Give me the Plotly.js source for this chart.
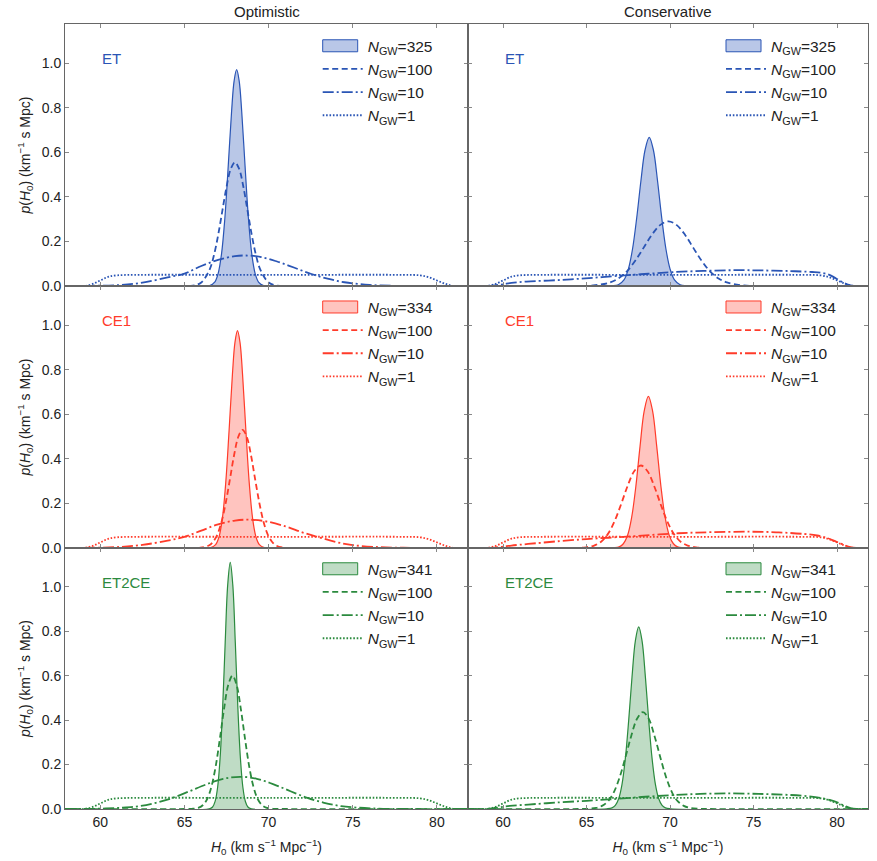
<!DOCTYPE html>
<html><head><meta charset="utf-8">
<script src="https://cdn.plot.ly/plotly-3.0.1.min.js"></script>
<style>html,body{margin:0;padding:0;background:#fff}</style>
</head><body><div id="chart" style="width:877px;height:861px"></div>
<script>
// ---------- data (H0 in km/s/Mpc, p(H0)) ----------
const columns = ['Optimistic', 'Conservative'];
const detectors = ['ET', 'CE1', 'ET2CE'];
const et_n = [325, 100, 10, 1];
const ce1_n = [334, 100, 10, 1];
const et2ce_n = [341, 100, 10, 1];

// prior (N_GW = 1), same in all panels
const prior_x = [57.9, 59.0, 59.5, 60.0, 60.5, 61.0, 62.0, 70.0, 78.0, 79.0, 79.5, 80.0, 80.5, 81.0, 81.85];
const prior_y = [0, 0, 0.008, 0.025, 0.042, 0.048, 0.05, 0.05, 0.05, 0.048, 0.04, 0.025, 0.01, 0, 0];

// ET optimistic
const et_opt_325_x = [57.9, 66.5, 66.8, 67.0, 67.2, 67.4, 67.6, 67.8, 67.95, 68.1, 68.25, 68.4, 68.6, 68.8, 69.0, 69.2, 69.4, 69.7, 81.85];
const et_opt_325_y = [0, 0.002, 0.018, 0.056, 0.143, 0.304, 0.538, 0.784, 0.92, 0.97, 0.92, 0.784, 0.538, 0.304, 0.143, 0.056, 0.018, 0.002, 0];
const et_opt_100_x = [57.9, 64.5, 65.5, 66.0, 66.5, 66.75, 67.0, 67.25, 67.5, 67.75, 68.0, 68.25, 68.5, 68.75, 69.0, 69.25, 69.5, 70.0, 70.5, 71.5, 81.85];
const et_opt_100_y = [0, 0, 0.002, 0.016, 0.075, 0.138, 0.228, 0.337, 0.445, 0.525, 0.555, 0.525, 0.445, 0.337, 0.228, 0.138, 0.075, 0.016, 0.002, 0, 0];
const et_opt_10_x = [57.9, 59.5, 61, 62.5, 64, 65, 66, 67, 68, 68.6, 69.5, 70.5, 71.5, 72.5, 73.5, 74.5, 76, 77.5, 79, 81.85];
const et_opt_10_y = [0, 0.001, 0.004, 0.015, 0.039, 0.056, 0.09, 0.117, 0.134, 0.137, 0.131, 0.11, 0.083, 0.055, 0.033, 0.017, 0.005, 0.001, 0, 0];

// ET conservative
const et_con_325_x = [57.9, 66.5, 66.9, 67.25, 67.5, 67.75, 68.0, 68.25, 68.5, 68.75, 69.0, 69.25, 69.5, 69.75, 70.0, 70.25, 70.6, 71.0, 81.85];
const et_con_325_y = [0, 0.001, 0.006, 0.029, 0.076, 0.166, 0.305, 0.47, 0.61, 0.667, 0.61, 0.47, 0.305, 0.166, 0.076, 0.029, 0.006, 0.001, 0];
const et_con_100_x = [57.9, 64.5, 65.4, 66.4, 66.9, 67.4, 67.9, 68.4, 68.9, 69.4, 69.9, 70.4, 70.9, 71.4, 71.9, 72.4, 72.9, 73.4, 74.4, 75.5, 81.85];
const et_con_100_y = [0, 0, 0.0025, 0.016, 0.034, 0.065, 0.112, 0.17, 0.229, 0.273, 0.29, 0.273, 0.229, 0.17, 0.112, 0.065, 0.034, 0.016, 0.0025, 0, 0];
const et_con_10_x = [57.9, 59.0, 59.5, 60.0, 60.5, 61.4, 63.4, 65.4, 67.3, 68.7, 70.1, 72.0, 73.9, 75.5, 77.2, 78.5, 79.0, 79.5, 79.8, 80.2, 80.6, 81.0, 81.85];
const et_con_10_y = [0, 0, 0.003, 0.008, 0.014, 0.02, 0.027, 0.037, 0.048, 0.055, 0.062, 0.068, 0.071, 0.07, 0.067, 0.063, 0.06, 0.051, 0.04, 0.022, 0.008, 0.001, 0];

// CE1 optimistic
const ce1_opt_334_x = [57.9, 66.55, 66.85, 67.05, 67.25, 67.45, 67.65, 67.85, 68.0, 68.15, 68.3, 68.45, 68.65, 68.85, 69.05, 69.25, 69.45, 69.75, 81.85];
const ce1_opt_334_y = [0, 0.002, 0.015, 0.049, 0.132, 0.291, 0.526, 0.78, 0.922, 0.975, 0.922, 0.78, 0.526, 0.291, 0.132, 0.049, 0.015, 0.002, 0];
const ce1_opt_100_x = [57.9, 65.5, 65.95, 66.45, 66.7, 66.95, 67.2, 67.45, 67.7, 67.95, 68.2, 68.45, 68.7, 68.95, 69.2, 69.45, 69.7, 69.95, 70.2, 70.45, 70.95, 71.5, 81.85];
const ce1_opt_100_y = [0, 0, 0.001, 0.011, 0.028, 0.06, 0.117, 0.202, 0.308, 0.417, 0.499, 0.53, 0.499, 0.417, 0.308, 0.202, 0.117, 0.06, 0.028, 0.011, 0.001, 0, 0];
const ce1_opt_10_x = [57.9, 59.5, 61, 62.5, 64, 65, 66, 67, 68, 68.8, 69.8, 71, 72, 73, 74, 75, 76.5, 78, 79.5, 81.85];
const ce1_opt_10_y = [0, 0.001, 0.004, 0.014, 0.033, 0.05, 0.078, 0.106, 0.123, 0.127, 0.12, 0.097, 0.07, 0.048, 0.027, 0.013, 0.004, 0.001, 0, 0];

// CE1 conservative
const ce1_con_334_x = [57.9, 66.6, 66.95, 67.2, 67.45, 67.7, 67.95, 68.2, 68.45, 68.7, 68.95, 69.2, 69.45, 69.7, 69.95, 70.2, 70.45, 70.8, 81.85];
const ce1_con_334_y = [0, 0.001, 0.005, 0.019, 0.056, 0.138, 0.277, 0.456, 0.615, 0.68, 0.615, 0.456, 0.277, 0.138, 0.056, 0.019, 0.005, 0.001, 0];
const ce1_con_100_x = [57.9, 64.25, 64.95, 65.45, 65.85, 66.25, 66.65, 67.05, 67.45, 67.85, 68.25, 68.65, 69.05, 69.45, 69.85, 70.25, 70.65, 71.05, 71.55, 72.25, 81.85];
const ce1_con_100_y = [0, 0, 0.003, 0.011, 0.027, 0.06, 0.116, 0.193, 0.277, 0.344, 0.37, 0.344, 0.277, 0.193, 0.116, 0.06, 0.027, 0.011, 0.003, 0, 0];
const ce1_con_10_x = [57.9, 59.0, 59.5, 60.0, 60.5, 61.5, 63.4, 65.0, 66.3, 68.0, 70.5, 72.5, 74.8, 76.5, 78.0, 78.8, 79.4, 79.8, 80.3, 80.8, 81.2, 81.85];
const ce1_con_10_y = [0, 0, 0.002, 0.006, 0.011, 0.018, 0.031, 0.04, 0.046, 0.054, 0.066, 0.071, 0.073, 0.07, 0.063, 0.056, 0.045, 0.033, 0.017, 0.004, 0, 0];

// ET2CE optimistic
const et2ce_opt_341_x = [57.9, 66.47, 66.67, 66.82, 66.97, 67.12, 67.27, 67.42, 67.57, 67.72, 67.87, 68.02, 68.17, 68.32, 68.47, 68.62, 68.77, 68.97, 81.85];
const et2ce_opt_341_y = [0, 0.001, 0.009, 0.034, 0.098, 0.233, 0.46, 0.75, 1.01, 1.11, 1.01, 0.75, 0.46, 0.233, 0.098, 0.034, 0.009, 0.001, 0];
const et2ce_opt_100_x = [57.9, 65.0, 65.45, 65.85, 66.1, 66.35, 66.6, 66.85, 67.1, 67.35, 67.6, 67.85, 68.1, 68.35, 68.6, 68.85, 69.1, 69.35, 69.6, 69.85, 70.25, 71.0, 81.85];
const et2ce_opt_100_y = [0, 0, 0.001, 0.006, 0.018, 0.045, 0.1, 0.19, 0.315, 0.45, 0.558, 0.6, 0.558, 0.45, 0.315, 0.19, 0.1, 0.045, 0.018, 0.006, 0.001, 0, 0];
const et2ce_opt_10_x = [57.9, 58.3, 59.8, 61.3, 62.3, 63.3, 64.3, 65.3, 66.3, 67.3, 68.3, 69.3, 70.3, 71.3, 72.3, 73.3, 74.3, 75.3, 76.8, 78.3, 81.85];
const et2ce_opt_10_y = [0, 0, 0.001, 0.006, 0.013, 0.028, 0.05, 0.08, 0.111, 0.136, 0.145, 0.136, 0.111, 0.08, 0.05, 0.028, 0.013, 0.006, 0.001, 0, 0];

// ET2CE conservative
const et2ce_con_341_x = [57.9, 66.22, 66.52, 66.72, 66.92, 67.12, 67.32, 67.52, 67.72, 67.92, 68.12, 68.32, 68.52, 68.72, 68.92, 69.12, 69.32, 69.52, 69.72, 70.02, 81.85];
const et2ce_con_341_y = [0, 0.001, 0.005, 0.016, 0.046, 0.111, 0.228, 0.399, 0.595, 0.757, 0.82, 0.757, 0.595, 0.399, 0.228, 0.111, 0.046, 0.016, 0.005, 0.001, 0];
const et2ce_con_100_x = [57.9, 64.5, 65.07, 65.57, 65.92, 66.27, 66.62, 66.97, 67.32, 67.67, 68.02, 68.37, 68.72, 69.07, 69.42, 69.77, 70.12, 70.47, 70.82, 71.17, 71.67, 72.3, 81.85];
const et2ce_con_100_y = [0, 0, 0.001, 0.005, 0.014, 0.034, 0.074, 0.141, 0.231, 0.328, 0.406, 0.436, 0.406, 0.328, 0.231, 0.141, 0.074, 0.034, 0.014, 0.005, 0.001, 0, 0];
const et2ce_con_10_x = [57.9, 59.0, 59.4, 59.8, 60.4, 61.5, 63.4, 65.0, 66.3, 68.3, 70.3, 71.8, 73.3, 75.3, 77.2, 78.3, 79.0, 79.6, 80.0, 80.4, 80.8, 81.2, 81.85];
const et2ce_con_10_y = [0, 0, 0.003, 0.008, 0.014, 0.02, 0.03, 0.037, 0.043, 0.054, 0.063, 0.068, 0.07, 0.068, 0.063, 0.057, 0.05, 0.04, 0.03, 0.016, 0.004, 0, 0];

const xTicks = [60, 65, 70, 75, 80];
const yTicks = [0, 0.2, 0.4, 0.6, 0.8, 1.0];

// ---------- styling ----------
const FONT = 'Liberation Sans, Arial, sans-serif';
const TXT = '#222';
const H_RANGE = [57.9, 81.85];
const P_RANGE = [0, 1.175];
const palette = {
  ET:    {line: '#2a55b5', fill: 'rgba(42,85,181,0.33)'},
  CE1:   {line: '#ff3b2a', fill: 'rgba(255,59,42,0.3)'},
  ET2CE: {line: '#2b8a3e', fill: 'rgba(43,138,62,0.3)'}
};
const dashes = ['solid', '6px,3.5px', '11px,3px,2px,3px', '1.6px,1.8px'];

const panels = [
  {det: 'ET', ns: et_n, curves: [[et_opt_325_x, et_opt_325_y], [et_opt_100_x, et_opt_100_y], [et_opt_10_x, et_opt_10_y], [prior_x, prior_y]]},
  {det: 'ET', ns: et_n, curves: [[et_con_325_x, et_con_325_y], [et_con_100_x, et_con_100_y], [et_con_10_x, et_con_10_y], [prior_x, prior_y]]},
  {det: 'CE1', ns: ce1_n, curves: [[ce1_opt_334_x, ce1_opt_334_y], [ce1_opt_100_x, ce1_opt_100_y], [ce1_opt_10_x, ce1_opt_10_y], [prior_x, prior_y]]},
  {det: 'CE1', ns: ce1_n, curves: [[ce1_con_334_x, ce1_con_334_y], [ce1_con_100_x, ce1_con_100_y], [ce1_con_10_x, ce1_con_10_y], [prior_x, prior_y]]},
  {det: 'ET2CE', ns: et2ce_n, curves: [[et2ce_opt_341_x, et2ce_opt_341_y], [et2ce_opt_100_x, et2ce_opt_100_y], [et2ce_opt_10_x, et2ce_opt_10_y], [prior_x, prior_y]]},
  {det: 'ET2CE', ns: et2ce_n, curves: [[et2ce_con_341_x, et2ce_con_341_y], [et2ce_con_100_x, et2ce_con_100_y], [et2ce_con_10_x, et2ce_con_10_y], [prior_x, prior_y]]}
];

// page geometry (px) -> paper
const M = {l: 65, r: 9, t: 24, b: 52};
const PW = 877 - M.l - M.r, PH = 861 - M.t - M.b;
const px2x = px => (px - M.l) / PW;
const px2y = py => (861 - M.b - py) / PH;

const xDom = [[0, 0.5019], [0.5019, 1]];
const yDom = [[0.6662, 1], [0.3325, 0.6662], [0, 0.3325]];

const LEG_FONT = 15.5;
const LEG_ITEM_H = LEG_FONT * 1.3 + 3;
const LEG_ITEM_W = 40;
const legLeftPx = [317.7, 721];
const legTopPx = [29.2, 290.4, 552.2];

const traces = [];
const layout = {
  width: 877, height: 861,
  margin: M,
  paper_bgcolor: '#fff', plot_bgcolor: '#fff',
  font: {family: FONT, color: TXT, size: 14},
  showlegend: true,
  annotations: [],
  shapes: []
};

panels.forEach((p, i) => {
  const k = i + 1;
  const sfx = k === 1 ? '' : String(k);
  const col = i % 2, row = Math.floor(i / 2);
  const c = palette[p.det];
  const legName = 'legend' + sfx;
  // legend entry for the filled posterior (symbol drawn as a box shape below)
  traces.push({
    type: 'scatter', mode: 'lines', x: [null], y: [null],
    xaxis: 'x' + sfx, yaxis: 'y' + sfx, legend: legName,
    name: '<i>N</i><sub>GW</sub>=' + p.ns[0],
    line: {color: 'rgba(0,0,0,0)', width: 0}, hoverinfo: 'skip'
  });
  p.curves.forEach((cv, j) => {
    const tr = {
      type: 'scatter', mode: 'lines',
      x: cv[0], y: cv[1],
      xaxis: 'x' + sfx, yaxis: 'y' + sfx, legend: legName,
      name: '<i>N</i><sub>GW</sub>=' + p.ns[j],
      line: {color: c.line, width: j === 0 ? 1.2 : 1.8, dash: dashes[j], shape: 'spline'},
      hoverinfo: 'skip'
    };
    if (j === 0) { tr.fill = 'toself'; tr.fillcolor = c.fill; tr.showlegend = false; }
    traces.push(tr);
  });
  layout['xaxis' + sfx] = {
    domain: xDom[col], anchor: 'y' + sfx, range: H_RANGE,
    showline: true, mirror: 'ticks', linecolor: '#666', linewidth: 1,
    ticks: 'inside', ticklen: 4, tickcolor: '#888', tickwidth: 1,
    tickvals: xTicks, showgrid: false, zeroline: false,
    showticklabels: row === 2, tickfont: {size: 14, color: TXT},
    title: row === 2 ? {text: '<i>H</i><sub>0</sub> (km s<sup>−1</sup> Mpc<sup>−1</sup>)', font: {size: 14, color: TXT}, standoff: 13} : {text: ''}
  };
  layout['yaxis' + sfx] = {
    domain: yDom[row], anchor: 'x' + sfx, range: P_RANGE,
    showline: true, mirror: 'ticks', linecolor: '#666', linewidth: 1,
    ticks: 'inside', ticklen: 4, tickcolor: '#888', tickwidth: 1,
    tickvals: yTicks, tickformat: '.1f', showgrid: false, zeroline: false,
    showticklabels: col === 0, tickfont: {size: 14, color: TXT},
    title: col === 0 ? {text: '<i>p</i>(<i>H</i><sub>0</sub>) (km<sup>−1</sup> s Mpc)', font: {size: 14, color: TXT}, standoff: 7} : {text: ''}
  };
  layout[legName] = {
    x: px2x(legLeftPx[col]), y: px2y(legTopPx[row]), xanchor: 'left', yanchor: 'top',
    xref: 'paper', yref: 'paper',
    bgcolor: 'rgba(0,0,0,0)', borderwidth: 0,
    font: {size: LEG_FONT, color: TXT, family: FONT},
    itemwidth: LEG_ITEM_W, tracegroupgap: 0, traceorder: 'normal'
  };
  // filled legend box for the first entry
  const cy = legTopPx[row] + 5 + LEG_ITEM_H / 2;
  layout.shapes.push({
    type: 'rect', xref: 'paper', yref: 'paper', layer: 'above',
    x0: px2x(legLeftPx[col] + 5), x1: px2x(legLeftPx[col] + 40),
    y0: px2y(cy - 6), y1: px2y(cy + 6),
    fillcolor: c.fill, line: {color: c.line, width: 1}
  });
  layout.annotations.push({
    xref: 'x' + sfx, yref: 'y' + sfx, x: 60, y: 1.02,
    xanchor: 'left', yanchor: 'middle', showarrow: false,
    text: p.det, font: {size: 15, color: c.line, family: FONT}
  });
});

columns.forEach((t, col) => {
  layout.annotations.push({
    xref: 'paper', yref: 'paper', x: (xDom[col][0] + xDom[col][1]) / 2, y: 1,
    xanchor: 'center', yanchor: 'bottom', yshift: 2, showarrow: false,
    text: t, font: {size: 15, color: TXT, family: FONT}
  });
});

Plotly.newPlot('chart', traces, layout, {displayModeBar: false, staticPlot: true});
</script>
</body></html>
